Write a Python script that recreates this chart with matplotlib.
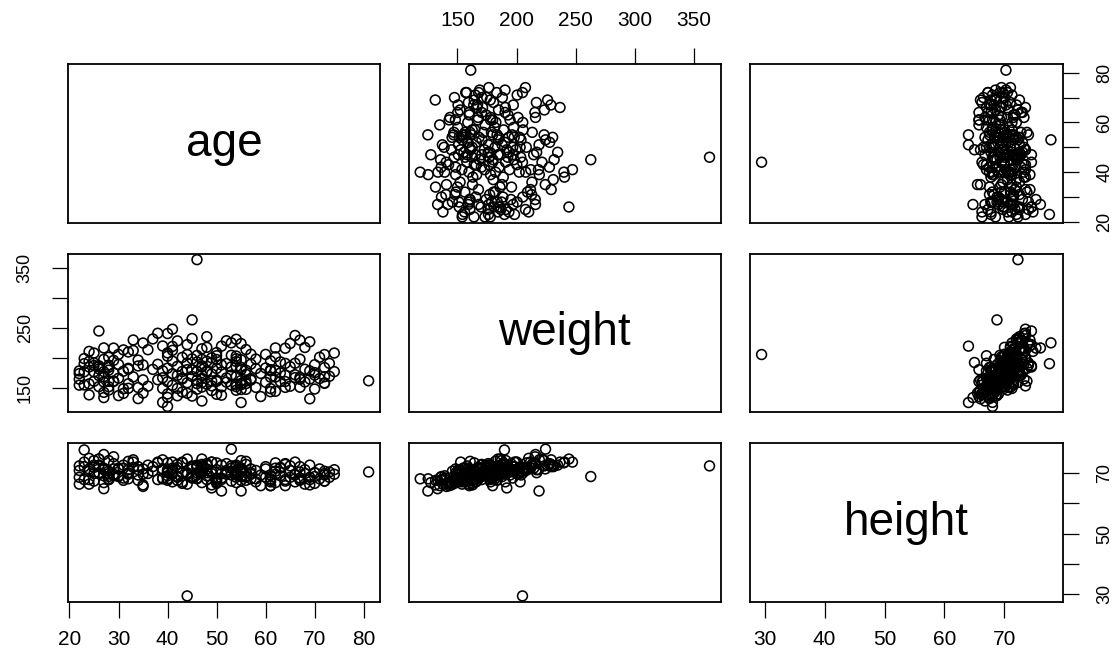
import matplotlib.pyplot as plt

plt.rcParams['font.family'] = ['Liberation Sans', 'DejaVu Sans']

# body fat data: age (years), weight (lbs), height (inches)
age = [23, 22, 22, 26, 24, 24, 26, 25, 25, 23,
       26, 27, 32, 30, 35, 35, 34, 32, 28, 33,
       28, 28, 31, 32, 28, 27, 34, 31, 27, 29,
       32, 29, 27, 41, 41, 49, 40, 50, 46, 50,
       45, 44, 48, 41, 39, 43, 40, 39, 45, 47,
       47, 40, 51, 49, 42, 54, 58, 62, 54, 61,
       62, 56, 54, 61, 57, 55, 54, 55, 54, 55,
       62, 55, 56, 55, 61, 61, 57, 69, 81, 66,
       67, 64, 64, 70, 72, 67, 72, 64, 46, 48,
       46, 44, 47, 46, 47, 53, 38, 50, 46, 47,
       22, 23, 24, 24, 25, 25, 26, 26, 27, 27,
       28, 28, 29, 29, 30, 30, 31, 31, 32, 33,
       33, 34, 34, 35, 35, 36, 36, 37, 37, 38,
       38, 23, 22, 24, 25, 26, 27, 28, 29, 30,
       39, 39, 40, 40, 40, 41, 41, 42, 42, 42,
       43, 43, 43, 44, 44, 44, 45, 45, 46, 46,
       47, 47, 47, 48, 48, 48, 49, 49, 50, 50,
       50, 51, 51, 51, 52, 52, 52, 53, 53, 53,
       54, 54, 54, 55, 55, 55, 56, 56, 56, 57,
       57, 40, 41, 42, 43, 44, 45, 46, 47, 48,
       49, 50, 51, 52, 53, 54, 55, 56, 39, 45,
       49, 40,
       58, 58, 59, 59, 60, 60, 60, 61, 62, 62,
       63, 63, 64, 64, 65, 65, 65, 66, 66, 66,
       67, 67, 67, 68, 68, 68, 69, 69, 69, 70,
       70, 70, 71, 71, 72, 72, 72, 73, 73, 74,
       74, 63, 61]

weight = [154.25, 173.25, 154.00, 184.75, 184.25, 210.25, 181.00, 176.00, 191.00, 198.25,
          186.25, 216.00, 180.50, 205.25, 187.75, 162.75, 195.75, 209.25, 183.75, 211.75,
          179.00, 200.50, 140.25, 148.75, 151.25, 159.25, 131.50, 148.00, 133.25, 160.75,
          182.00, 160.25, 168.00, 218.50, 247.25, 191.75, 202.25, 196.75, 363.15, 203.00,
          262.75, 205.00, 217.00, 212.00, 125.25, 164.25, 133.50, 148.50, 135.75, 127.50,
          158.25, 139.25, 137.25, 152.75, 136.25, 198.00, 181.50, 201.25, 202.50, 179.75,
          216.00, 178.75, 193.25, 178.00, 205.50, 183.50, 151.50, 154.75, 155.25, 156.75,
          167.50, 146.75, 160.75, 125.00, 143.00, 148.25, 162.50, 177.75, 161.25, 171.25,
          163.75, 150.25, 190.25, 170.75, 168.00, 167.00, 157.75, 160.00, 176.75, 176.00,
          177.00, 179.75, 165.25, 192.50, 184.25, 224.50, 188.75, 162.50, 156.50, 197.00,
          177.75, 176.25, 156.00, 193.50, 186.75, 160.50, 151.50, 244.25, 142.00, 197.00,
          187.25, 145.75, 174.25, 215.75, 165.50, 136.50, 177.25, 212.75, 156.25, 167.75,
          229.25, 186.00, 150.00, 224.25, 140.75, 213.00, 152.25, 231.00, 180.25, 163.00,
          240.50, 189.75, 164.00, 137.75, 207.50, 170.00, 176.50, 160.25, 195.25, 188.50,
          219.25, 166.25, 182.25, 240.00, 159.75, 173.00, 194.00, 148.50, 185.25, 227.75,
          165.75, 200.25, 142.50, 190.75, 158.00, 221.50, 168.50, 180.00, 203.50, 147.25,
          186.25, 170.50, 214.50, 155.50, 193.75, 234.75, 172.75, 145.00, 181.75, 208.25,
          160.25, 176.00, 219.00, 151.00, 190.00, 166.00, 228.00, 154.25, 184.50, 203.75,
          168.25, 230.50, 145.50, 179.75, 196.25, 161.75, 172.00, 213.25, 147.00, 189.00,
          164.75, 207.75, 153.75, 170.25, 176.75, 140.50, 197.75, 162.25, 150.75, 177.50,
          199.50, 138.75, 187.75, 159.00, 170.75, 185.00, 223.25, 156.50, 178.00, 231.75,
          161.00, 118.50,
          150.25, 197.50, 173.50, 135.00, 182.50, 158.75, 205.25, 167.25, 178.25, 143.75,
          192.75, 160.00, 215.50, 170.50, 223.50, 152.25, 184.75, 236.75, 166.50, 190.50,
          229.00, 150.50, 197.25, 180.50, 159.25, 216.75, 164.25, 226.25, 131.25, 174.75,
          188.00, 147.50, 200.50, 165.00, 183.25, 205.00, 157.00, 190.25, 168.75, 207.50,
          176.50, 174.25, 194.50]

height = [67.75, 72.25, 66.25, 72.25, 71.25, 74.75, 69.75, 72.50, 74.00, 73.50,
          74.50, 76.00, 69.50, 71.25, 69.50, 66.00, 71.00, 71.00, 67.75, 73.50,
          68.00, 69.75, 68.25, 70.00, 67.75, 71.50, 67.50, 67.50, 64.75, 69.00,
          73.75, 71.25, 71.25, 71.00, 73.50, 65.00, 70.00, 68.25, 72.25, 67.00,
          68.75, 29.50, 70.00, 71.50, 68.00, 73.25, 67.50, 71.25, 68.50, 66.75,
          72.25, 69.00, 67.75, 73.50, 67.50, 72.00, 68.00, 69.50, 70.75, 65.75,
          73.25, 68.50, 70.25, 67.00, 70.00, 67.50, 70.75, 71.50, 69.25, 71.50,
          71.50, 68.75, 73.75, 64.00, 65.75, 67.50, 69.50, 68.50, 70.25, 69.25,
          67.75, 67.25, 72.75, 70.00, 69.25, 67.50, 67.25, 65.75, 72.50, 73.00,
          70.00, 69.50, 70.50, 71.75, 74.50, 77.75, 73.25, 66.50, 68.25, 72.00,
          68.50, 72.00, 67.75, 70.50, 69.75, 67.25, 70.00, 74.50, 66.75, 71.00,
          74.00, 70.50, 69.50, 75.25, 69.00, 68.75, 71.50, 72.50, 68.00, 71.75,
          74.25, 72.00, 69.25, 71.25, 65.50, 72.50, 69.75, 72.00, 70.50, 67.75,
          73.50, 77.50, 70.75, 66.25, 71.75, 72.50, 69.00, 68.75, 73.00, 71.50,
          74.25, 68.25, 71.00, 73.25, 70.50, 69.50, 70.25, 68.50, 71.75, 72.75,
          67.00, 73.50, 66.50, 69.50, 70.00, 74.50, 71.25, 68.25, 72.00, 68.00,
          70.00, 72.75, 71.50, 69.00, 71.25, 72.50, 70.50, 66.00, 71.00, 73.25,
          67.50, 69.75, 64.00, 68.25, 70.75, 70.25, 73.00, 67.25, 72.25, 69.25,
          68.50, 72.50, 66.75, 71.00, 70.50, 70.25, 69.00, 72.75, 67.50, 71.25,
          68.00, 70.75, 67.00, 68.75, 70.00, 66.25, 72.00, 69.25, 71.00, 67.75,
          73.50, 68.00, 72.50, 69.50, 71.50, 69.75, 74.00, 70.00, 71.00, 72.25,
          69.75, 68.00,
          67.00, 70.75, 69.25, 65.75, 72.00, 68.50, 71.25, 68.00, 70.50, 66.75,
          71.75, 69.00, 73.00, 67.75, 72.25, 68.50, 70.75, 73.50, 69.50, 67.00,
          72.00, 68.25, 70.25, 69.75, 66.25, 71.00, 67.75, 72.50, 66.00, 70.00,
          68.75, 66.50, 71.25, 68.00, 69.75, 70.50, 67.25, 70.25, 68.50, 71.00,
          69.50, 71.50, 69.25]

names = ['age', 'weight', 'height']
data = [age, weight, height]
ticks = [[20, 30, 40, 50, 60, 70, 80],
         [150, 200, 250, 300, 350],
         [30, 40, 50, 60, 70]]
# labels R keeps on the rotated y axes
ylabs = [[20, 40, 60, 80], [150, 250, 350], [30, 50, 70]]

W, H = 1118, 658
fig = plt.figure(figsize=(W / 100, H / 100), dpi=100)

lefts = [67.7, 408.6, 750.0]
tops = [64.3, 253.8, 443.3]
pw, ph = 312.5, 158.5


def lims(v):
    lo, hi = min(v), max(v)
    r = hi - lo
    return lo - 0.04 * r, hi + 0.04 * r


for i in range(3):
    for j in range(3):
        ax = fig.add_axes([lefts[j] / W, 1 - (tops[i] + ph) / H, pw / W, ph / H])
        ax.set_xlim(lims(data[j]))
        ax.set_ylim(lims(data[i]))
        if i == j:
            ax.text(0.5, 0.5, names[i], transform=ax.transAxes,
                    ha='center', va='center', fontsize=33)
        else:
            ax.scatter(data[j], data[i], s=50, facecolors='none',
                       edgecolors='black', linewidths=1.15)
        for sp in ax.spines.values():
            sp.set_linewidth(1.3)
        ax.set_xticks([])
        ax.set_yticks([])
        ax.tick_params(length=11.5, width=0.9, labelsize=15, pad=13)

        # x axes: bottom for age and height, top for weight
        if i == 2 and j in (0, 2):
            ax.set_xticks(ticks[j])
            ax.set_xticklabels([str(t) for t in ticks[j]])
            ax.tick_params(axis='x', pad=9)
        if i == 0 and j == 1:
            ax.xaxis.tick_top()
            ax.set_xticks(ticks[j])
            ax.set_xticklabels([str(t) for t in ticks[j]])

        # y axes: left for weight, right for age and height
        if (j == 0 and i == 1) or (j == 2 and i in (0, 2)):
            if j == 2:
                ax.yaxis.tick_right()
            ax.set_yticks(ticks[i])
            ax.set_yticklabels([str(t) if t in ylabs[i] else '' for t in ticks[i]],
                               rotation=90, va='center', fontsize=13)

fig.savefig('out.png', dpi=100)
